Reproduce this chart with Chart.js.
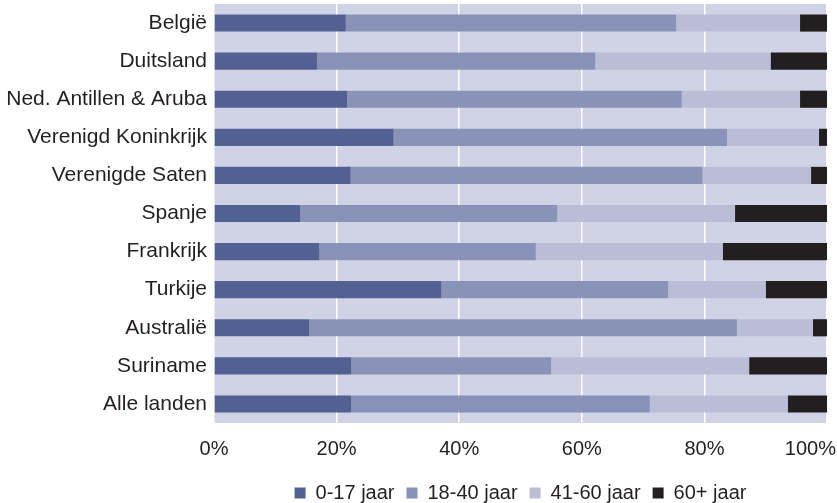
<!DOCTYPE html>
<html>
<head>
<meta charset="utf-8">
<script src="https://cdn.jsdelivr.net/npm/chart.js@4/dist/chart.umd.min.js"></script>
<style>
  html, body { margin: 0; padding: 0; background: #ffffff; }
  #wrap { width: 837px; height: 503px; position: relative; }
</style>
</head>
<body>
<div id="wrap"><canvas id="ageChart"></canvas></div>
<script>
// --- Data: leeftijdsopbouw per herkomstland (%) ---
const countries = ['België', 'Duitsland', 'Ned. Antillen & Aruba', 'Verenigd Koninkrijk', 'Verenigde Saten',
  'Spanje', 'Frankrijk', 'Turkije', 'Australië', 'Suriname', 'Alle landen'];
const age0to17  = [21.5, 16.8, 21.7, 29.3, 22.3, 14.1, 17.2, 37.1, 15.5, 22.4, 22.4];
const age18to40 = [53.9, 45.4, 54.6, 54.4, 57.4, 41.9, 35.3, 37.0, 69.8, 32.6, 48.7];
const age41to60 = [20.2, 28.6, 19.3, 15.0, 17.7, 29.0, 30.5, 15.9, 12.4, 32.3, 22.5];
const age60plus = [4.4, 9.2, 4.4, 1.3, 2.6, 15.0, 17.0, 10.0, 2.3, 12.7, 6.4];
const seriesLabels = ['0-17 jaar', '18-40 jaar', '41-60 jaar', '60+ jaar'];
const xTicks = [0, 20, 40, 60, 80, 100];

const colors = {
  kids: '#526191',
  young: '#8893b7',
  middle: '#b9bed6',
  old: '#231f20',
  plotBg: '#d0d3e5',
  text: '#231f20'
};

const FONT = "'Liberation Sans', Arial, sans-serif";

// plot area background
const plotBackground = {
  id: 'plotBackground',
  beforeDraw(chart) {
    const { ctx, chartArea: a } = chart;
    ctx.save();
    ctx.fillStyle = colors.plotBg;
    ctx.fillRect(a.left, a.top, a.right - a.left, a.bottom - a.top);
    ctx.restore();
  }
};

// percentage labels under the x axis, last one kept inside the canvas
const xTickLabels = {
  id: 'xTickLabels',
  afterDraw(chart) {
    const { ctx } = chart;
    const scale = chart.scales.x;
    ctx.save();
    ctx.font = '20px ' + FONT;
    ctx.fillStyle = colors.text;
    ctx.textBaseline = 'middle';
    ctx.textAlign = 'left';
    xTicks.forEach(v => {
      const text = v + '%';
      const w = ctx.measureText(text).width;
      let left = scale.getPixelForValue(v) - w / 2;
      if (left + w > chart.width - 1) left = chart.width - 1 - w;
      ctx.fillText(text, left, 449);
    });
    ctx.restore();
  }
};

const ctx = document.getElementById('ageChart').getContext('2d');
new Chart(ctx, {
  type: 'bar',
  data: {
    labels: countries,
    datasets: [
      { label: seriesLabels[0], data: age0to17, backgroundColor: colors.kids },
      { label: seriesLabels[1], data: age18to40, backgroundColor: colors.young },
      { label: seriesLabels[2], data: age41to60, backgroundColor: colors.middle },
      { label: seriesLabels[3], data: age60plus, backgroundColor: colors.old }
    ]
  },
  options: {
    indexAxis: 'y',
    responsive: true,
    maintainAspectRatio: false,
    animation: false,
    layout: { padding: { top: 4, right: 10, left: 0, bottom: -10 } },
    datasets: {
      bar: { barPercentage: 0.45, categoryPercentage: 1, borderWidth: 0 }
    },
    plugins: {
      tooltip: { enabled: false },
      legend: {
        position: 'bottom',
        fullSize: false,
        labels: {
          color: colors.text,
          font: { family: FONT, size: 20 },
          boxWidth: 11,
          boxHeight: 11,
          padding: 12
        }
      }
    },
    scales: {
      x: {
        stacked: true,
        min: 0,
        max: 100,
        ticks: { display: false, stepSize: 20 },
        grid: { color: '#ffffff', lineWidth: 1.5, drawTicks: false },
        border: { display: false },
        afterFit(scale) {
          scale.height = 48;
          scale.paddingLeft = 0;
          scale.paddingRight = 0;
        }
      },
      y: {
        stacked: true,
        grid: { display: false, drawTicks: false },
        border: { display: false },
        ticks: {
          color: colors.text,
          font: { family: FONT, size: 21 },
          padding: 7,
          autoSkip: false
        },
        afterFit(scale) {
          scale.width = 214;
          scale.paddingTop = 0;
          scale.paddingBottom = 0;
        }
      }
    }
  },
  plugins: [plotBackground, xTickLabels]
});
</script>
</body>
</html>
